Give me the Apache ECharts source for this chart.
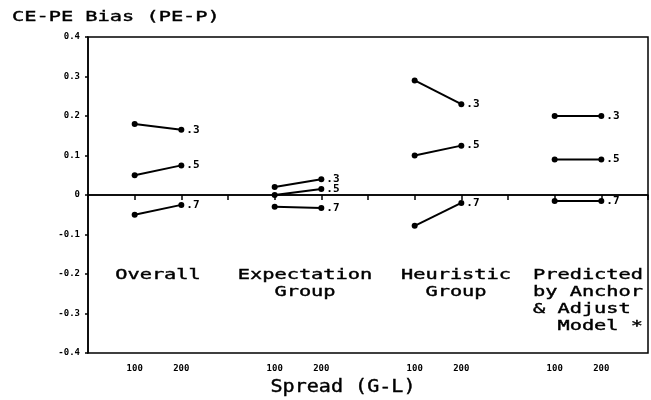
<!DOCTYPE html>
<html>
<head>
<meta charset="utf-8">
<script src="https://cdn.jsdelivr.net/npm/echarts@6/dist/echarts.min.js"></script>
<style>
  html, body { margin: 0; padding: 0; background: #fff; }
  #main { width: 651px; height: 400px; }
</style>
</head>
<body>
<div id="main"></div>
<script>
// groups along the x axis, each with a 100 and 200 spread
let groupNames = ["Overall", "Expectation\nGroup", "Heuristic\nGroup", "Predicted\nby Anchor\n& Adjust\n  Model *"];
let spreadLabels = ["100", "200"];
let levelLabels = [".3", ".5", ".7"];

// bias values per level: [group][spread 100, spread 200]
let bias3 = [[0.18, 0.165], [0.02, 0.04], [0.29, 0.23], [0.2, 0.2]];
let bias5 = [[0.05, 0.075], [0.0, 0.015], [0.1, 0.125], [0.09, 0.09]];
let bias7 = [[-0.05, -0.025], [-0.03, -0.033], [-0.078, -0.02], [-0.015, -0.015]];

let yTicks = [-0.4, -0.3, -0.2, -0.1, 0, 0.1, 0.2, 0.3, 0.4];

let font = "'DejaVu Sans Mono', monospace";

function xPos(groupIdx, spreadIdx) {
    return groupIdx * 3 + 1 + spreadIdx;
}

function makeSeries() {
    let out = [];
    let levels = [bias3, bias5, bias7];
    for (let l = 0; l < levels.length; l = l + 1) {
        for (let g = 0; g < groupNames.length; g = g + 1) {
            let pts = [];
            for (let s = 0; s < spreadLabels.length; s = s + 1) {
                pts.push({
                    value: [xPos(g, s), levels[l][g][s]],
                    label: { show: s === 1 }
                });
            }
            out.push({
                type: "line",
                data: pts,
                symbol: "circle",
                symbolSize: 6,
                itemStyle: { color: "#000" },
                lineStyle: { color: "#000", width: 2 },
                label: {
                    position: "right",
                    distance: 2,
                    formatter: levelLabels[l],
                    color: "#000",
                    fontFamily: font,
                    fontWeight: "bold",
                    fontSize: 11
                },
                silent: true,
                animation: false
            });
        }
    }
    out[0].markLine = {
        silent: true,
        symbol: "none",
        label: { show: false },
        lineStyle: { color: "#000", width: 1.5, type: "solid" },
        data: [{ yAxis: 0 }]
    };
    return out;
}

let groupCenters = [158, 305, 456, 533];
let groupGraphics = groupNames.map(function (name, i) {
    let left = i === 3;
    return {
        type: "text",
        x: groupCenters[i],
        y: 267,
        scaleX: 1.45,
        style: {
            text: name,
            font: "14px " + font,
            fill: "#000",
            stroke: "#000",
            lineWidth: 0.4,
            textAlign: left ? "left" : "center",
            lineHeight: 17
        }
    };
});

let myChart = echarts.init(document.getElementById("main"));

let option = {
    animation: false,
    grid: {
        left: 88,
        right: -3,
        top: 37,
        bottom: 47,
        show: true,
        borderColor: "#000",
        borderWidth: 1.5
    },
    xAxis: {
        type: "value",
        min: 0,
        max: 12,
        interval: 1,
        splitLine: { show: false },
        axisLine: { lineStyle: { color: "#000", width: 1.5 } },
        axisTick: {
            show: true,
            length: 5,
            lineStyle: { color: "#000", width: 1.5 }
        },
        axisLabel: {
            color: "#000",
            fontFamily: font,
            fontWeight: "bold",
            fontSize: 9,
            margin: 11,
            formatter: function (v) {
                let r = v % 3;
                if (v === 0 || v === 12 || r === 0) return "";
                return spreadLabels[r - 1];
            }
        }
    },
    yAxis: {
        type: "value",
        min: -0.4,
        max: 0.4,
        interval: 0.1,
        splitLine: { show: false },
        axisLine: { show: true, lineStyle: { color: "#000", width: 1.5 } },
        axisTick: { show: true, length: 3, lineStyle: { color: "#000", width: 1.5 } },
        axisLabel: {
            color: "#000",
            fontFamily: font,
            fontWeight: "bold",
            fontSize: 9,
            margin: 8,
            formatter: function (v) {
                let r = Math.round(v * 10) / 10;
                return r === 0 ? "0" : r.toFixed(1);
            }
        }
    },
    graphic: [
        {
            type: "text",
            x: 12,
            y: 10,
            scaleX: 1.45,
            style: { text: "CE-PE Bias (PE-P)", font: "14px " + font, fill: "#000", stroke: "#000", lineWidth: 0.4 }
        },
        {
            type: "text",
            x: 343,
            y: 379,
            scaleX: 1.18,
            style: { text: "Spread (G-L)", font: "17px " + font, fill: "#000", stroke: "#000", lineWidth: 0.4, textAlign: "center" }
        }
    ].concat(groupGraphics),
    series: makeSeries()
};

myChart.setOption(option);
</script>
</body>
</html>
